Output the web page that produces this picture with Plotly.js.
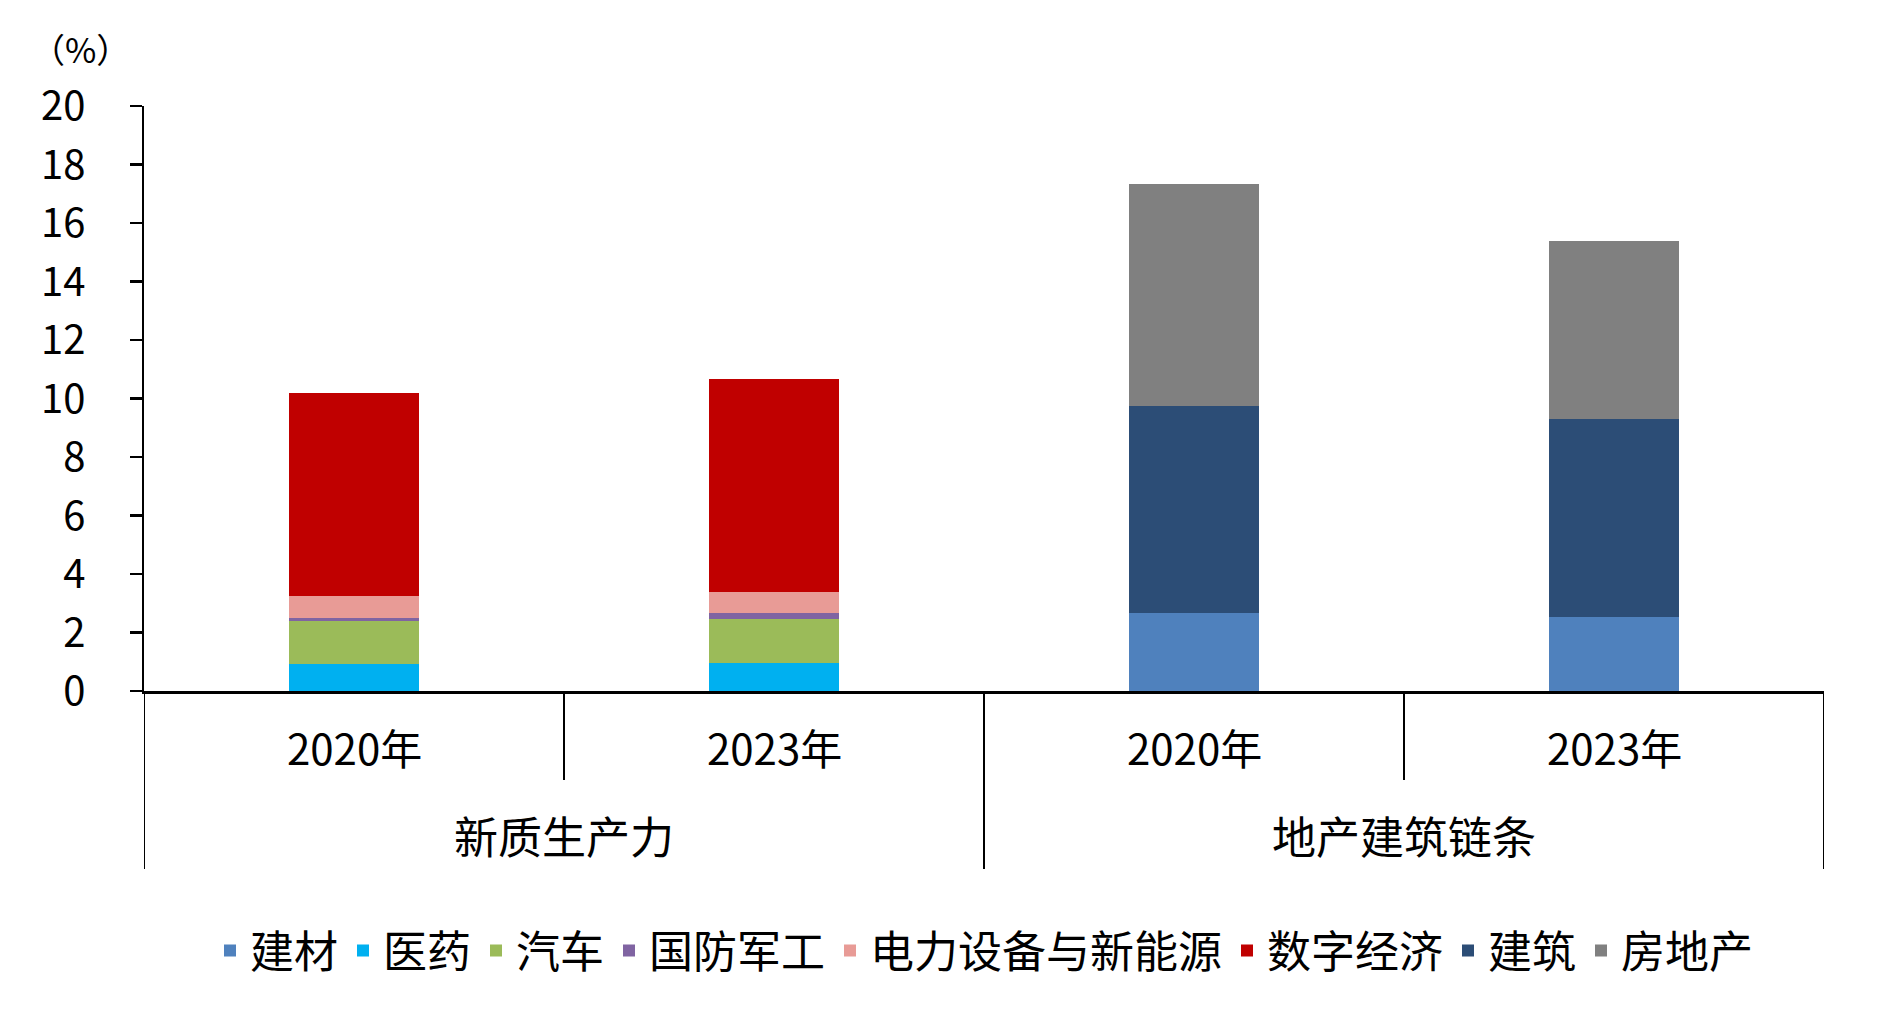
<!DOCTYPE html>
<html>
<head>
<meta charset="utf-8">
<script src="https://cdn.plot.ly/plotly-3.0.1.min.js"></script>
<style>html,body{margin:0;padding:0;background:#fff;}#chart{width:1882px;height:1011px;}</style>
</head>
<body>
<div id="chart"></div>
<script>
// ---- data ----
var groups = ['新质生产力', '新质生产力', '地产建筑链条', '地产建筑链条'];
var years = ['2020年', '2023年', '2020年', '2023年'];
var seriesNames = ['建材', '医药', '汽车', '国防军工', '电力设备与新能源', '数字经济', '建筑', '房地产'];
var jiancai   = [null, null, 2.65, 2.52];
var yiyao     = [0.92, 0.97, null, null];
var qiche     = [1.46, 1.50, null, null];
var guofang   = [0.13, 0.18, null, null];
var dianli    = [0.73, 0.72, null, null];
var shuzi     = [6.95, 7.31, null, null];
var jianzhu   = [null, null, 7.09, 6.77];
var fangdichan= [null, null, 7.59, 6.11];
var yTicks = [0, 2, 4, 6, 8, 10, 12, 14, 16, 18, 20];
var unitLabel = '（%）';

var seriesValues = [jiancai, yiyao, qiche, guofang, dianli, shuzi, jianzhu, fangdichan];
var colors = ['#4F81BD', '#00B0F0', '#9BBB59', '#8064A2', '#E89B96', '#C00000', '#2C4D76', '#808080'];

var FONT = 'Noto Sans CJK SC, Liberation Sans, sans-serif';
var xIdx = years.map(function (_, i) { return i; });

var traces = seriesNames.map(function (name, k) {
  return {
    type: 'bar',
    name: name,
    x: xIdx,
    y: seriesValues[k],
    width: 0.31,
    marker: { color: colors[k], line: { width: 0 } },
    hoverinfo: 'name+y'
  };
});

// plot area geometry (px)
var W = 1882, H = 1011;
var mL = 144, mR = 58, mT = 106, mB = 320;
var plotH = H - mT - mB;
function py(pix) { return (H - mB - pix) / plotH; }

var shapes = [];
var n = years.length;
for (var i = 0; i <= n; i++) {
  var outer = (i === 0 || i === n || groups[i] !== groups[i - 1]);
  shapes.push({
    type: 'line', xref: 'x', yref: 'paper',
    x0: i - 0.5, x1: i - 0.5, y0: 0, y1: outer ? py(869) : py(780),
    line: { color: '#000', width: 2 }
  });
}

var annotations = [];
years.forEach(function (yr, i) {
  annotations.push({
    xref: 'x', yref: 'paper', x: i, y: py(746), text: yr, showarrow: false,
    xanchor: 'center', yanchor: 'middle', font: { family: FONT, size: 42, color: '#000' }
  });
});
var seen = {};
groups.forEach(function (g, i) {
  if (!seen[g]) seen[g] = [];
  seen[g].push(i);
});
Object.keys(seen).forEach(function (g) {
  var idx = seen[g];
  var c = (idx[0] + idx[idx.length - 1]) / 2;
  annotations.push({
    xref: 'x', yref: 'paper', x: c, y: py(835), text: g, showarrow: false,
    xanchor: 'center', yanchor: 'middle', font: { family: FONT, size: 44, color: '#000' }
  });
});
annotations.push({
  xref: 'paper', yref: 'paper', x: (80 - mL) / (W - mL - mR), y: py(49), text: unitLabel,
  showarrow: false, xanchor: 'center', yanchor: 'middle',
  font: { family: FONT, size: 34, color: '#000' }
});

var layout = {
  width: W, height: H,
  margin: { l: mL, r: mR, t: mT, b: mB, pad: 0 },
  paper_bgcolor: '#fff', plot_bgcolor: '#fff',
  barmode: 'stack',
  showlegend: true,
  legend: {
    orientation: 'h', x: 0.5, xanchor: 'center', y: py(951), yanchor: 'middle',
    font: { family: FONT, size: 44, color: '#000' }, traceorder: 'normal',
    itemsizing: 'constant'
  },
  xaxis: {
    range: [-0.5, n - 0.5], showgrid: false, zeroline: false,
    showline: true, linecolor: '#000', linewidth: 3,
    showticklabels: false, ticks: '', fixedrange: true
  },
  yaxis: {
    range: [0, 20], tickvals: yTicks, ticktext: yTicks.map(String),
    showgrid: false, zeroline: false, showline: true, linecolor: '#000', linewidth: 2.5,
    ticks: 'outside', ticklen: 12, tickwidth: 2.5, tickcolor: '#000',
    ticklabelstandoff: 36,
    tickfont: { family: FONT, size: 40, color: '#000' }
  },
  shapes: shapes,
  annotations: annotations
};

Plotly.newPlot('chart', traces, layout, { displayModeBar: false, staticPlot: true });
</script>
</body>
</html>
